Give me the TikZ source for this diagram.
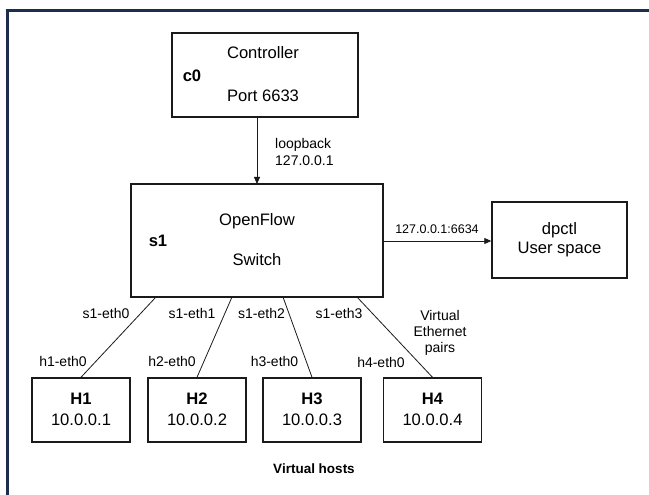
\documentclass[tikz,border=0pt]{standalone}
\usepackage{fontspec}
\setmainfont{Liberation Sans}
\usetikzlibrary{arrows.meta}
\definecolor{framenavy}{HTML}{1B2E4B}
\definecolor{ink}{HTML}{1A1A1A}
\begin{document}
\begin{tikzpicture}[x=1pt,y=-1pt,
  box/.style={draw=ink,line width=1.4pt},
  main/.style={font=\fontsize{16.6}{19}\selectfont,inner sep=0pt},
  tag/.style={font=\fontsize{16.6}{19}\selectfont\bfseries,inner sep=0pt},
  small/.style={font=\fontsize{14}{16.5}\selectfont,inner sep=0pt,align=center},
  wire/.style={draw=ink,line width=0.8pt},
  arr/.style={wire,-{Triangle[length=7pt,width=6pt]}}]
\useasboundingbox (0,0) rectangle (649,495);
% open frame around the figure
\draw[framenavy,line width=2.6pt] (7.5,495) -- (7.5,10.5) -- (649,10.5);

% controller
\node[box,minimum width=186pt,minimum height=84pt,inner sep=0pt] (c0) at (265,75) {};
\node[main] at (263,53) {Controller};
\node[main] at (263,96) {Port 6633};
\node[tag] at (192,76) {c0};

% switch
\node[box,minimum width=252pt,minimum height=113pt,inner sep=0pt] (s1) at (257,240.5) {};
\node[main] at (257,221) {OpenFlow};
\node[main] at (257,260) {Switch};
\node[tag] at (158,241) {s1};

% dpctl
\node[box,minimum width=135pt,minimum height=76pt,inner sep=0pt,main,align=center] (dp) at (559.5,240) {dpctl\\[0pt]User space};

% hosts
\foreach \n/\cx in {1/81,2/197,3/312,4/432.5}{
  \node[box,minimum width=98pt,minimum height=64pt,inner sep=0pt] (h\n) at (\cx,410) {};
  \node[tag] at (\cx,399) {H\n};
  \node[main] at (\cx,420) {10.0.0.\n};
}

% control connections
\coordinate (c0b) at (257,117);
\coordinate (s1t) at (257,184);
\draw[arr] (c0b) -- (s1t);
\node[small,align=left,anchor=west] at (275,152) {loopback\\127.0.0.1};
\coordinate (s1r) at (383,241);
\draw[arr] (s1r) -- (dp.west |- s1r);
\node[font=\fontsize{12.5}{15}\selectfont,inner sep=0pt] at (437,229) {127.0.0.1:6634};

% virtual ethernet links
\foreach \n/\sx in {1/156,2/232,3/283,4/357}{
  \coordinate (p\n) at (\sx,297);
  \draw[wire] (p\n) -- (h\n.north);
}
\node[small] at (106,313) {s1-eth0};
\node[small] at (192,313) {s1-eth1};
\node[small] at (261.5,313) {s1-eth2};
\node[small] at (339,313) {s1-eth3};
\node[small] at (63,361) {h1-eth0};
\node[small] at (172,361) {h2-eth0};
\node[small] at (274.5,361) {h3-eth0};
\node[small] at (381,362) {h4-eth0};
\node[small] at (440,333) {Virtual\\[-0.3pt]Ethernet\\[-0.3pt]pairs};

\node[font=\fontsize{13.5}{16}\selectfont\bfseries,inner sep=0pt] at (314,469) {Virtual hosts};
\end{tikzpicture}
\end{document}
